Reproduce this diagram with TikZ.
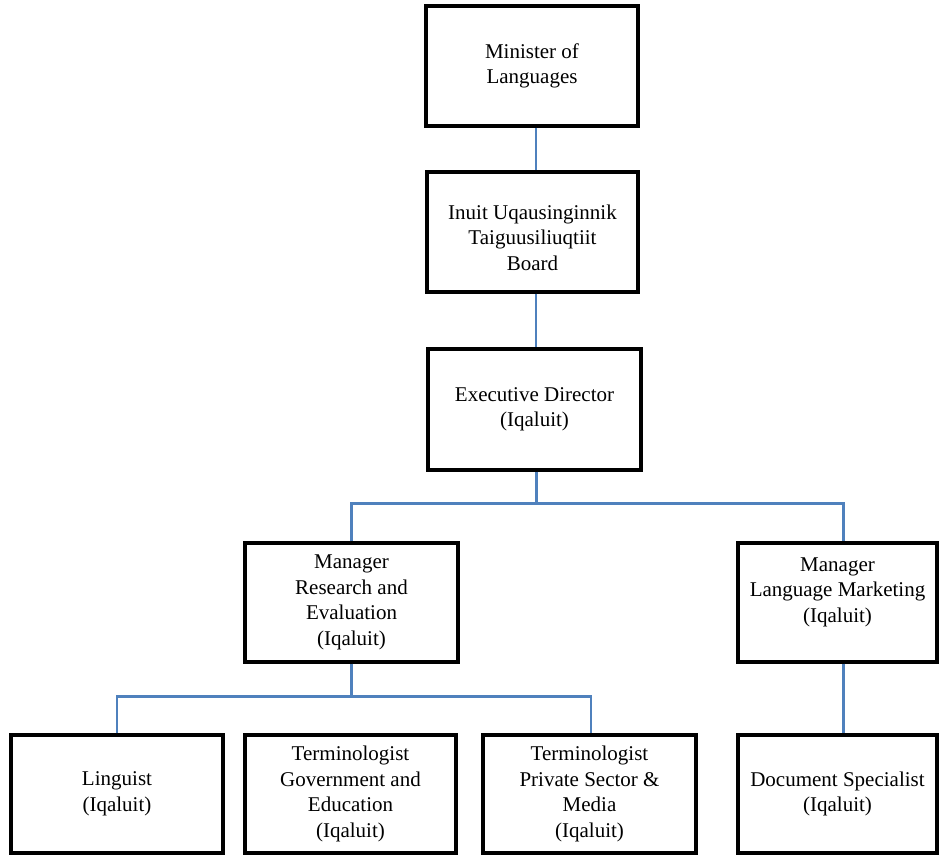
\documentclass[tikz,border=0pt]{standalone}
\usepackage{fontspec}
\setmainfont{Liberation Serif}
\usepackage{tikz}
\usetikzlibrary{positioning}

\definecolor{linkblue}{RGB}{79,129,189}
\tikzset{
  orgbox/.style={draw=black, line width=3.2pt, fill=white, align=center, inner sep=2pt,
    font=\fontsize{21}{25.5}\selectfont},
  orglink/.style={draw=linkblue, line width=2.4pt}
}

\begin{document}
\begin{tikzpicture}[x=1pt, y=-1pt]
		\useasboundingbox (0,0) rectangle (940,855);
		% boxes
		\node[orgbox, minimum width=212pt, minimum height=120pt] (minister) at (532,66) {Minister of\\Languages}; %% top
		\node[orgbox, minimum width=211pt, minimum height=120pt] (board) at (532.5,232) {\mbox{}\\Inuit Uqausinginnik\\Taiguusiliuqtiit\\Board}; %% board
		\node[orgbox, minimum width=213pt, minimum height=121pt] (execdir) at (534.5,409.5) {Executive Director\\(Iqaluit)}; %% executive director
		\node[orgbox, minimum width=213pt, minimum height=119pt] (mgrresearch) at (351.5,602.5) {Manager\\Research and\\Evaluation\\(Iqaluit)};
		\node[orgbox, minimum width=199pt, minimum height=119pt] (mgrmarketing) at (837.5,602.5) {Manager\\Language Marketing\\(Iqaluit)\\\mbox{}};
		\node[orgbox, minimum width=212pt, minimum height=118pt] (linguist) at (117,794) {Linguist\\(Iqaluit)};
		\node[orgbox, minimum width=211pt, minimum height=118pt] (termgov) at (350.5,794) {Terminologist\\Government and\\Education\\(Iqaluit)};
		\node[orgbox, minimum width=213pt, minimum height=118pt] (termpriv) at (589.5,794) {Terminologist\\Private Sector \&\\Media\\(Iqaluit)};
		\node[orgbox, minimum width=199pt, minimum height=118pt] (docspec) at (837.5,794) {Document Specialist\\(Iqaluit)};
		% connectors
		\coordinate (execsplit) at ([yshift=-32pt]execdir.south);
		\coordinate (researchsplit) at ([yshift=-33pt]mgrresearch.south);
		\draw[orglink] ([xshift=4pt]minister.south) -- ([xshift=3.5pt]board.north); %% minister - board
		\draw[orglink] ([xshift=3.5pt]board.south) -- ([xshift=1.5pt]execdir.north); %% board - director
		\draw[orglink] ([xshift=2pt]execdir.south) -- ([xshift=2pt]execsplit);
		\draw[orglink] (mgrresearch.north) |- ([xshift=2pt]execsplit) -| ([xshift=6pt]mgrmarketing.north);
		\draw[orglink] (mgrresearch.south) -- (researchsplit);
		\draw[orglink] (linguist.north) |- (researchsplit) -| ([xshift=1.5pt]termpriv.north);
		\draw[orglink] ([xshift=6pt]mgrmarketing.south) -- ([xshift=6pt]docspec.north); %% marketing - document specialist
	\end{tikzpicture}
\end{document}
